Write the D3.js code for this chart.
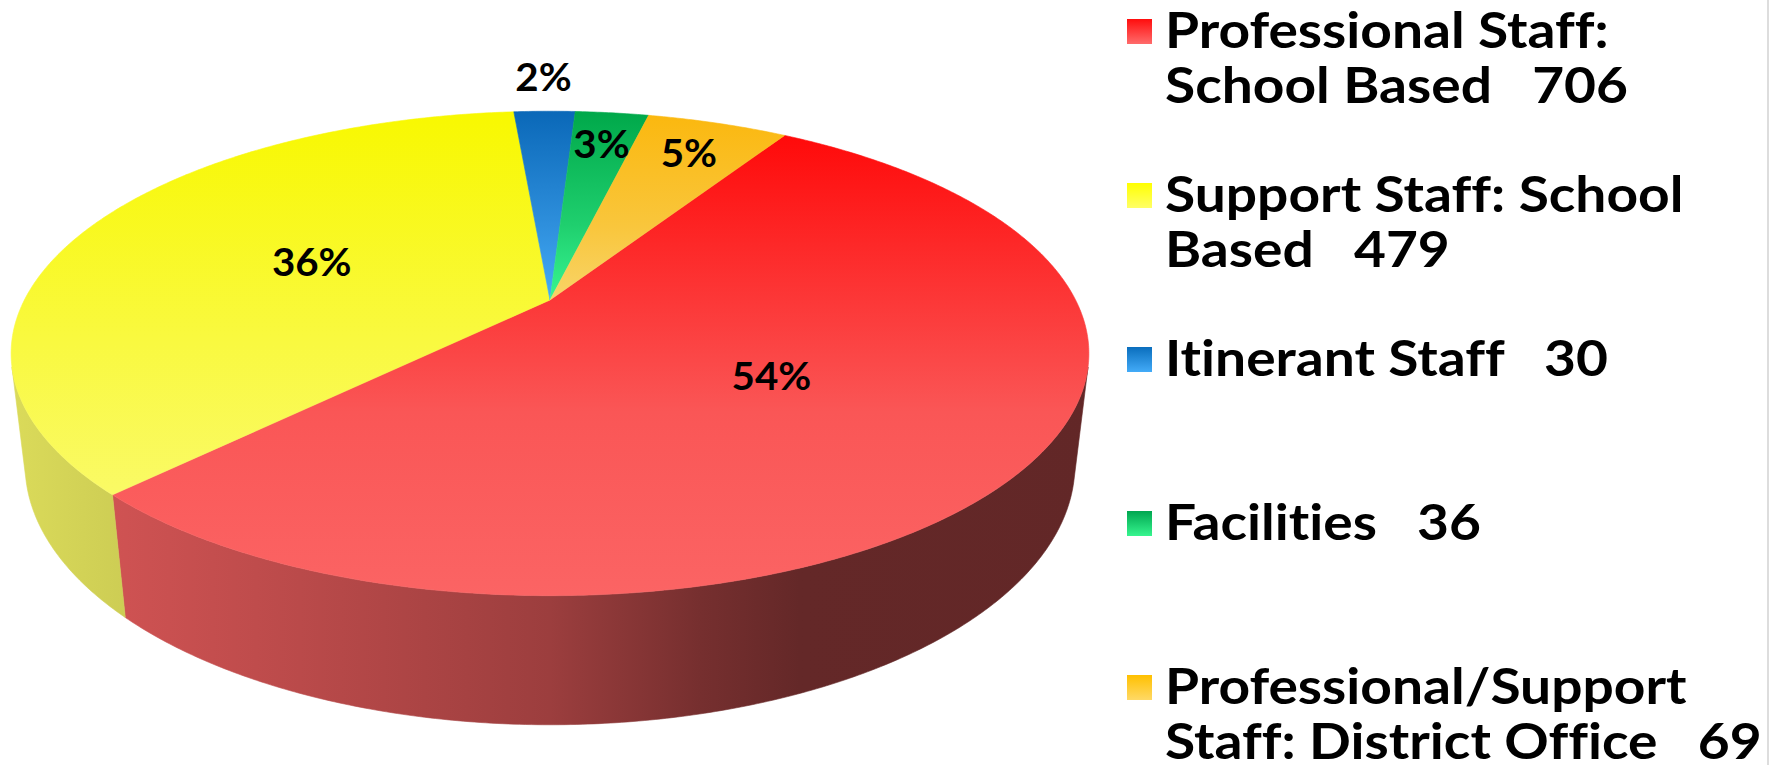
<!DOCTYPE html>
<html>
<head>
<meta charset="utf-8">
<script src="https://cdn.jsdelivr.net/npm/d3@7"></script>
<style>
  html, body { margin: 0; padding: 0; background: #ffffff; overflow: hidden; }
  svg text {
    font-family: "Lato", "Open Sans", sans-serif; font-weight: 700; fill: #000;
    font-variant-ligatures: none; font-feature-settings: "liga" 0, "clig" 0, "dlig" 0;
  }
</style>
</head>
<body>
<svg id="chart" width="1773" height="765"></svg>
<script>
// ---- data -------------------------------------------------------------
const categories = [
  "Professional Staff:\nSchool Based",
  "Support Staff: School\nBased",
  "Itinerant Staff",
  "Facilities",
  "Professional/Support\nStaff: District Office"
];
const values = [706, 479, 30, 36, 69];

// top-face gradient (far edge -> near edge) for each slice
const topColors = [
  ["#ff0a0a", "#fa5656", "#fb6464"],
  ["#f8f800", "#f9f940", "#fafa66"],
  ["#0a68b8", "#2e8fdc", "#44acf8"],
  ["#00a84a", "#1fcf6e", "#38f692"],
  ["#fbb80f", "#f9c63c", "#f8d468"]
];
// legend swatch gradients (top -> bottom)
const swatchColors = [
  ["#ff0d0d", "#ff6b6b"],
  ["#ffff00", "#ffff66"],
  ["#0a6ebd", "#43abf8"],
  ["#00a650", "#36f58e"],
  ["#ffc000", "#ffd966"]
];

// ---- canvas -----------------------------------------------------------
const svg = d3.select("#chart");
const defs = svg.append("defs");

// ---- 3D view of the disc ------------------------------------------------
// camera at unit distance looking down at the disc centre
const view = {
  cx: 550, cy: 300,     // screen position of the disc centre
  focal: 2141,          // focal length in pixels
  radius: 0.2455,       // disc radius / camera distance
  thick: 0.0579,        // disc thickness / camera distance
  tilt: 26 * Math.PI / 180
};
const sinT = Math.sin(view.tilt), cosT = Math.cos(view.tilt);

// theta: pie angle (0 = far side, clockwise seen from above)
// r: fraction of radius, level: 0 = top face, 1 = bottom face
function project(theta, r, level) {
  const a = theta - Math.PI / 2;
  const X = view.radius * r * Math.cos(a);
  const Z = view.radius * r * Math.sin(a);
  const Y = -view.thick * level;
  const dy = Y - sinT, dz = Z - cosT;
  const depth = -(dy * sinT + dz * cosT);
  const yc = dy * cosT - dz * sinT;
  return [view.cx + view.focal * X / depth, view.cy - view.focal * yc / depth];
}

function arcPoints(a0, a1, r, level) {
  const n = Math.max(2, Math.ceil(Math.abs(a1 - a0) / (Math.PI / 360)));
  return d3.range(n + 1).map(i => project(a0 + (a1 - a0) * i / n, r, level));
}

const line = d3.line();

// ---- pie layout -------------------------------------------------------
const startAngle = 32 * Math.PI / 180;
const pie = d3.pie().sort(null).value(d => d)
  .startAngle(startAngle).endAngle(startAngle + 2 * Math.PI);
const arcs = pie(values);
const total = d3.sum(values);

// whole-percent labels that add up to 100 (largest remainder)
function percentLabels(vals) {
  const raw = vals.map(v => v / total * 100);
  const fl = raw.map(Math.floor);
  const rest = 100 - d3.sum(fl);
  const order = d3.range(vals.length).sort((i, j) => (raw[j] - fl[j]) - (raw[i] - fl[i]));
  for (let n = 0; n < rest; n++) fl[order[n]]++;
  return fl.map(p => p + "%");
}
const labels = percentLabels(values);

// ---- gradients --------------------------------------------------------
topColors.forEach((c, i) => {
  const g = defs.append("linearGradient").attr("id", "top" + i)
    .attr("x1", 0).attr("y1", 0).attr("x2", 0).attr("y2", 1);
  g.append("stop").attr("offset", 0).attr("stop-color", c[0]);
  g.append("stop").attr("offset", 0.6).attr("stop-color", c[1]);
  g.append("stop").attr("offset", 1).attr("stop-color", c[2]);
});

// side wall shading: brightness falls off toward the right
const shade = d3.scaleLinear()
  .domain([0, 125, 300, 550, 700, 800, 1100])
  .range([0.88, 0.82, 0.74, 0.62, 0.47, 0.40, 0.39]);
topColors.forEach((c, i) => {
  const base = d3.rgb(c[2]);
  const g = defs.append("linearGradient").attr("id", "side" + i)
    .attr("gradientUnits", "userSpaceOnUse")
    .attr("x1", 0).attr("y1", 0).attr("x2", 1100).attr("y2", 0);
  shade.domain().forEach(x => {
    const f = shade(x);
    g.append("stop").attr("offset", x / 1100)
      .attr("stop-color", d3.rgb(base.r * f, base.g * f, base.b * f).formatHex());
  });
});

swatchColors.forEach((c, i) => {
  const g = defs.append("linearGradient").attr("id", "sw" + i)
    .attr("x1", 0).attr("y1", 0).attr("x2", 0).attr("y2", 1);
  g.append("stop").attr("offset", 0).attr("stop-color", c[0]);
  g.append("stop").attr("offset", 1).attr("stop-color", c[1]);
});

// ---- side walls ---------------------------------------------------------
const edge = Math.asin(view.radius / cosT);
const visLo = Math.PI / 2 + edge, visHi = 3 * Math.PI / 2 - edge;
const walls = svg.append("g").attr("class", "walls");
arcs.forEach((d, i) => {
  [0, -2 * Math.PI].forEach(shift => {
    const lo = Math.max(d.startAngle + shift, visLo);
    const hi = Math.min(d.endAngle + shift, visHi);
    if (lo >= hi) return;
    const pts = arcPoints(lo, hi, 1, 0).concat(arcPoints(hi, lo, 1, 1));
    walls.append("path")
      .attr("d", line(pts) + "Z")
      .attr("fill", `url(#side${i})`)
      .attr("stroke", `url(#side${i})`)
      .attr("stroke-width", 0.6);
  });
});

// ---- top faces ------------------------------------------------------------
const tops = svg.append("g").attr("class", "tops");
arcs.forEach((d, i) => {
  const pts = [project(0, 0, 0)].concat(arcPoints(d.startAngle, d.endAngle, 1, 0));
  tops.append("path")
    .attr("d", line(pts) + "Z")
    .attr("fill", `url(#top${i})`)
    .attr("stroke", `url(#top${i})`)
    .attr("stroke-width", 0.6);
});

// ---- percentage labels ------------------------------------------------
const labelRadius = [0.5, 0.5, 1.23, 0.8, 0.8];
const labelStretch = 1.06;
const lab = svg.append("g").attr("class", "labels");
arcs.forEach((d, i) => {
  const mid = (d.startAngle + d.endAngle) / 2;
  const p = project(mid, labelRadius[i], 0);
  lab.append("text")
    .attr("transform", `translate(${p[0]},${p[1]}) scale(${labelStretch},1)`)
    .attr("dy", "0.36em")
    .attr("text-anchor", "middle")
    .style("font-size", "38px")
    .text(labels[i]);
});

// ---- legend ----------------------------------------------------------------
const legend = svg.append("g").attr("class", "legend");
const legendX = 1127, textX = 1165, firstBase = 48, entryStep = 164, lineStep = 55;
const legendStretch = 1.125;
categories.forEach((name, i) => {
  const lines = (name + "   " + values[i]).split("\n");
  const base = firstBase + i * entryStep;
  legend.append("rect")
    .attr("x", legendX).attr("y", base - 29)
    .attr("width", 25).attr("height", 25)
    .attr("fill", `url(#sw${i})`);
  const t = legend.append("text")
    .attr("transform", `translate(${textX},${base}) scale(${legendStretch},1)`)
    .style("font-size", "49px")
    .attr("xml:space", "preserve")
    .style("white-space", "pre");
  lines.forEach((ln, j) => {
    t.append("tspan").attr("x", 0).attr("y", j * lineStep).text(ln);
  });
});

// thin frame line at the right edge
svg.append("line")
  .attr("x1", 1768).attr("x2", 1768).attr("y1", 0).attr("y2", 765)
  .attr("stroke", "#d2d2d2").attr("stroke-width", 1.5);
</script>
</body>
</html>
